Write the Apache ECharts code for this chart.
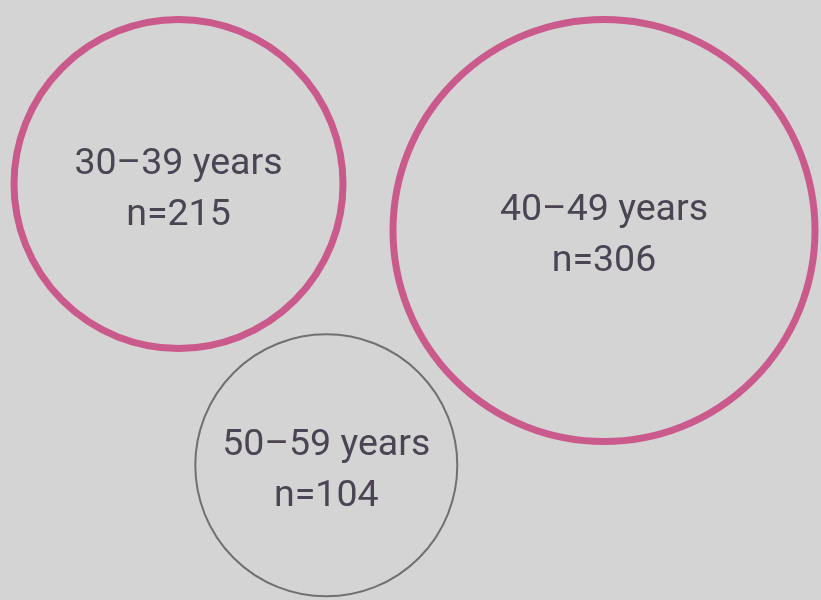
<!DOCTYPE html>
<html>
<head>
<meta charset="utf-8">
<script src="https://cdn.jsdelivr.net/npm/echarts@6/dist/echarts.min.js"></script>
<style>
html,body{margin:0;padding:0;background:#d4d4d4;}
#chart{width:821px;height:600px;}
</style>
</head>
<body>
<div id="chart"></div>
<script>
// Data
const categories = ['30–39 years', '40–49 years', '50–59 years'];
const counts = [215, 306, 104];

// Layout (packed-bubble placement, in pixel-like plot units)
const centerX = [178.5, 604, 326.3];
const centerY = [184, 230.5, 465.3];
const diameters = [329, 422, 262];
const strokeColors = ['#cb5a8c', '#cb5a8c', '#707070'];
const strokeWidths = [7, 7, 2];

const data = categories.map((c, i) => ({
  name: c,
  value: [centerX[i], centerY[i], counts[i]],
  symbolSize: diameters[i],
  itemStyle: { color: 'rgba(0,0,0,0)', borderColor: strokeColors[i], borderWidth: strokeWidths[i], opacity: 1 }
}));

const chart = echarts.init(document.getElementById('chart'));
chart.setOption({
  backgroundColor: '#d4d4d4',
  animation: false,
  grid: { left: 0, right: 0, top: 0, bottom: 0 },
  xAxis: { type: 'value', min: 0, max: 821, show: false },
  yAxis: { type: 'value', min: 0, max: 600, inverse: true, show: false },
  series: [{
    type: 'scatter',
    symbol: 'circle',
    data: data,
    itemStyle: { opacity: 1 },
    label: {
      show: true,
      position: 'inside',
      offset: [0, 6],
      formatter: p => p.name + '\nn=' + p.value[2],
      fontFamily: 'Roboto',
      fontSize: 37.5,
      lineHeight: 51,
      color: '#4b4452',
      opacity: 1
    },
    emphasis: { disabled: true }
  }]
});
</script>
</body>
</html>
